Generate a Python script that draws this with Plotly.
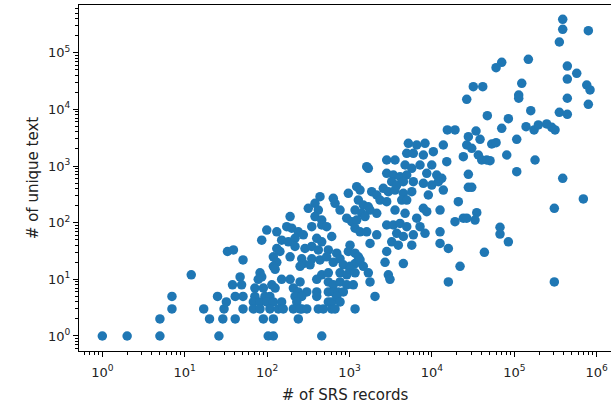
import plotly.graph_objects as go

# (# of SRS records, # of unique text) pairs
srs_records = [
    1, 2, 5, 5, 7, 7, 12, 17, 20, 25, 26, 29, 30, 32, 33, 39, 41, 41, 38,
    5175, 6540, 8240, 13740, 10400, 15130, 2826, 3565, 4945, 5945, 4720, 5690, 7165, 9950, 1617, 1690,
    2826, 3404, 4100, 4945, 8650, 11430, 13150, 3250, 3738, 4500, 5945, 7870, 9950, 11970, 2570, 2958,
    3565, 1222, 1341, 967, 1858, 2138, 4500, 5690, 9040, 13740, 438, 381, 635, 667, 1279, 1470, 1690,
    2344, 2826, 4300, 4945, 316, 418, 767, 1167, 1406, 1773, 2138, 3565, 4720, 7870, 8650, 12540, 190,
    381, 460, 925, 1063, 1222, 1542, 6540, 2826, 3404, 4100, 4945, 173, 199, 348, 460, 528, 1167, 1341,
    1617, 99, 131, 239, 275, 608, 2138, 3738, 4500, 5945, 8240, 12540, 86, 150, 181, 218, 400, 460,
    1773, 3250, 3909, 5690, 12540, 218, 288, 348, 418, 131, 143, 553, 699, 1014, 967, 1167, 1279, 2826,
    15820, 51, 119, 131, 190, 263, 275, 348, 438, 528, 635, 767, 841, 1014, 1167, 1341, 1470, 2697,
    4500, 119, 125, 251, 332, 82, 86, 78, 460, 553, 767, 925, 1014, 1167, 1690, 2958, 3098, 47, 49,
    150, 190, 251, 400, 553, 635, 767, 925, 1112, 1773, 15820, 71, 90, 114, 125, 208, 239, 303, 400,
    553, 635, 731, 841, 51, 71, 94, 108, 218, 263, 400, 553, 608, 699, 767, 2038, 68, 82, 99, 119,
    150, 229, 263, 608, 51, 68, 82, 108, 137, 157, 208, 251, 303, 418, 481, 667, 1167, 90, 119, 239,
    103, 119, 460,
    386500, 386500, 790600, 351700, 147900, 70300, 60000, 439500, 571700, 439500, 123000, 31770, 41380,
    756500, 829000, 113000, 113000, 26440, 439500, 790600, 158200, 351700, 439500, 47000, 84600, 15380,
    19060, 34280, 70300, 138700, 173500, 195500, 247000, 284300, 311800, 27670, 38370, 106900, 53200,
    60000, 26440, 30400, 7870, 24050, 36560, 40190, 46240, 50700, 80900, 178300, 27670, 106900, 386500,
    27670, 30400, 687600, 305700, 20900, 34990, 33340, 24050, 26440, 19060, 7165, 67000, 67000, 84600,
    43290, 21930, 305700,
]
unique_text = [
    1, 1, 1, 2, 3, 5, 12, 3, 2, 5, 1, 2, 3, 4, 31, 33, 2, 5, 8,
    2518, 2350, 2518, 2350, 1790, 1192, 1277, 1277, 1676, 1676, 1042, 912, 1042, 1042, 973, 912,
    744, 694, 648, 694, 744, 694, 607, 529, 462, 529, 529, 495, 462, 529, 404, 352,
    377, 432, 377, 330, 352, 308, 330, 352, 308, 377, 288, 220, 269, 220, 251, 205, 191,
    251, 235, 251, 251, 179, 167, 167, 167, 146, 167, 146, 167, 146, 179, 156, 167, 128,
    128, 111, 120, 104, 111, 128, 120, 91, 91, 97, 85, 85, 80, 85, 91, 85, 80, 69,
    69, 74, 69, 69, 61, 57, 61, 65, 57, 61, 65, 69, 49, 49, 46, 53, 53, 46,
    43, 46, 40, 40, 43, 38, 35, 38, 33, 35, 31, 33, 29, 40, 31, 29, 25, 31,
    35, 22, 25, 20, 25, 23, 19, 23, 22, 25, 20, 23, 18, 17, 19, 22, 17, 20,
    19, 17, 15, 17, 18, 13, 11, 10, 12, 13, 13, 12, 15, 13, 13, 12, 10, 11, 8,
    10, 10, 9, 10, 9, 8, 9, 8, 8, 9, 9, 7, 7, 8, 7, 7, 6, 6, 6,
    6, 6, 6, 6, 5, 5, 5, 5, 5, 5, 5, 4, 4, 5, 4, 5, 4, 4, 4, 4,
    4, 4, 3, 3, 3, 3, 3, 3, 3, 3, 3, 3, 3, 3, 3, 3, 3, 2, 2, 2,
    1, 1, 1,
    388000, 259000, 244500, 154500, 76500, 67800, 54300, 58200, 43300, 34300, 28800, 25100, 25100,
    26900, 22000, 17900, 15700, 15060, 15700, 12290, 9470, 8870, 8180, 7730, 6840, 4325,
    4325, 4150, 4630, 4940, 4325, 5300, 5520, 4820, 4325, 3290, 2963, 2963, 2448,
    2584, 2350, 2053, 1565, 1460, 1565, 1277, 1277, 1241, 1565, 1277, 714, 795, 607,
    421, 421, 262, 179, 235, 150, 111, 120, 120, 104, 85, 83, 63, 46,
    30, 17, 9,
]

x_tick_vals = [1, 10, 100, 1000, 10000, 100000, 1000000]
x_tick_text = ["10<sup>%d</sup>" % i for i in range(7)]
y_tick_vals = [1, 10, 100, 1000, 10000, 100000]
y_tick_text = ["10<sup>%d</sup>" % i for i in range(6)]

minor_vals = [m * 10 ** d for d in range(-1, 7) for m in range(2, 10)]

fig = go.Figure()
fig.add_trace(go.Scatter(
    x=srs_records, y=unique_text, mode="markers",
    marker=dict(color="#1f77b4", size=9.5, line=dict(width=0)),
    showlegend=False,
))

axis_common = dict(
    type="log", showgrid=False, zeroline=False, showline=True,
    linecolor="black", linewidth=1, ticks="outside", ticklen=5,
    tickwidth=1, tickcolor="black",
    tickfont=dict(family="DejaVu Sans", size=13, color="#222222"),
    minor=dict(tickmode="array", tickvals=minor_vals, ticks="outside",
               ticklen=3, tickwidth=0.8, tickcolor="black", showgrid=False),
)

fig.update_layout(
    width=611, height=411,
    margin=dict(l=79, r=0, t=5, b=60),
    paper_bgcolor="white", plot_bgcolor="white",
    font=dict(family="DejaVu Sans", color="#222222"),
    xaxis=dict(axis_common, range=[-0.283, 6.173], mirror=True,
               tickmode="array", tickvals=x_tick_vals, ticktext=x_tick_text,
               ticklabelstandoff=4,
               title=dict(text="# of SRS records", standoff=10,
                          font=dict(family="DejaVu Sans", size=15, color="#222222"))),
    yaxis=dict(axis_common, range=[-0.265, 5.842], mirror=False,
               tickmode="array", tickvals=y_tick_vals, ticktext=y_tick_text,
               title=dict(text="# of unique text", standoff=5,
                          font=dict(family="DejaVu Sans", size=15, color="#222222"))),
)

fig.write_html("out.html")
